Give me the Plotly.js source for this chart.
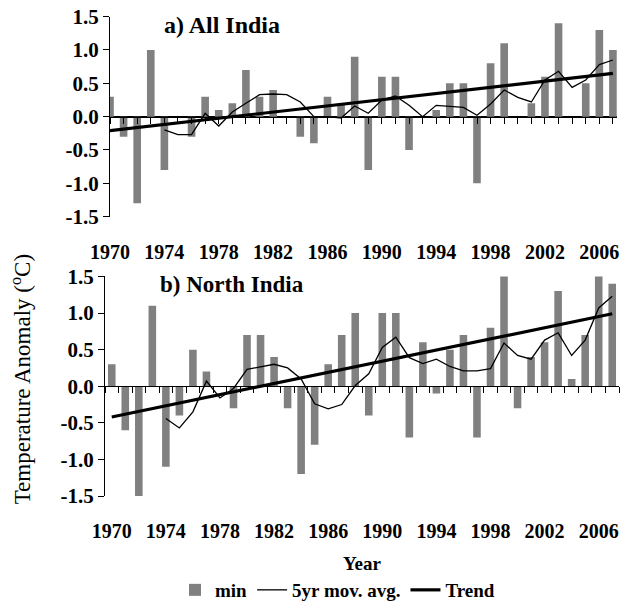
<!DOCTYPE html>
<html>
<head>
<meta charset="utf-8">
<script src="https://cdn.plot.ly/plotly-3.0.1.min.js"></script>
<style>html,body{margin:0;padding:0;background:#fff;}#chart{width:633px;height:609px;}</style>
</head>
<body>
<div id="chart"></div>
<script>
// ---- data ----
const years = [1970,1971,1972,1973,1974,1975,1976,1977,1978,1979,1980,1981,1982,1983,1984,1985,1986,1987,1988,1989,
               1990,1991,1992,1993,1994,1995,1996,1997,1998,1999,2000,2001,2002,2003,2004,2005,2006,2007];

const allIndiaMin = [0.3,-0.3,-1.3,1.0,-0.8,0.0,-0.3,0.3,0.1,0.2,0.7,0.3,0.4,0.0,-0.3,-0.4,0.3,0.2,0.9,-0.8,
                     0.6,0.6,-0.5,0.0,0.1,0.5,0.5,-1.0,0.8,1.1,0.0,0.2,0.6,1.4,0.0,0.5,1.3,1.0];

const movAvgYears = [1974,1975,1976,1977,1978,1979,1980,1981,1982,1983,1984,1985,1986,1987,1988,1989,
                     1990,1991,1992,1993,1994,1995,1996,1997,1998,1999,2000,2001,2002,2003,2004,2005,2006,2007];

const allIndiaAvg = [-0.20,-0.27,-0.27,0.05,-0.14,0.07,0.20,0.33,0.34,0.33,0.22,0.00,0.00,-0.02,0.16,0.05,
                     0.25,0.31,0.17,0.00,0.17,0.15,0.14,0.02,0.19,0.40,0.29,0.22,0.55,0.68,0.44,0.55,0.78,0.85];

const trendYears = [1970, 2007];
const allIndiaTrend = [-0.21, 0.65];

const northMin = [0.3,-0.6,-1.85,1.1,-1.1,-0.4,0.5,0.2,0.0,-0.3,0.7,0.7,0.4,-0.3,-1.2,-0.8,0.3,0.7,1.0,-0.4,
                  1.0,1.0,-0.7,0.6,-0.1,0.5,0.7,-0.7,0.8,1.6,-0.3,0.4,0.6,1.3,0.1,0.7,2.6,1.4];

const northAvg = [-0.44,-0.57,-0.35,0.07,-0.16,-0.03,0.23,0.27,0.30,0.25,0.10,-0.24,-0.31,-0.25,0.01,0.17,
                  0.53,0.67,0.39,0.31,0.37,0.27,0.21,0.21,0.24,0.59,0.42,0.37,0.63,0.73,0.42,0.63,1.07,1.23];

const northTrend = [-0.42, 0.99];

const xLabelYears = [1970,1974,1978,1982,1986,1990,1994,1998,2002,2006];
const xLabelText  = ['1970','1974','1978','1982','1986','1990','1994','1998','2002','2006'];
const yTickVals = [-1.5,-1.0,-0.5,0.0,0.5,1.0,1.5];
const yTickText = ['-1.5','-1.0','-0.5','0.0','0.5','1.0','1.5'];

// ---- styling ----
const FONT = 'Liberation Serif, Times New Roman, serif';
const BAR = '#808080';
const W = 633, H = 609;
const px = v => v / W, py = v => 1 - v / H;

const topX = [px(110), px(617)], topY = [py(221), py(17)];
const botX = [px(105), px(619)], botY = [py(506), py(282)];
const topRange = [1970, 2007.3];
const botRange = [1969.5, 2007.5];
const boundaries = years.map(y => y - 0.5).concat([years[years.length - 1] + 0.5]);

const traces = [
  {type:'bar', x:years, y:allIndiaMin, name:'min', marker:{color:BAR}, xaxis:'x', yaxis:'y'},
  {type:'scatter', mode:'lines', x:movAvgYears, y:allIndiaAvg, name:'5yr mov. avg.', line:{color:'#000', width:1.3}, xaxis:'x', yaxis:'y'},
  {type:'scatter', mode:'lines', x:trendYears, y:allIndiaTrend, name:'Trend', line:{color:'#000', width:3.2}, xaxis:'x', yaxis:'y'},
  {type:'bar', x:years, y:northMin, name:'min', marker:{color:BAR}, xaxis:'x2', yaxis:'y2', showlegend:false},
  {type:'scatter', mode:'lines', x:movAvgYears, y:northAvg, name:'5yr mov. avg.', line:{color:'#000', width:1.3}, xaxis:'x2', yaxis:'y2', showlegend:false},
  {type:'scatter', mode:'lines', x:trendYears, y:northTrend, name:'Trend', line:{color:'#000', width:3.2}, xaxis:'x2', yaxis:'y2', showlegend:false}
];

const xTickFont = {family:FONT, size:20, color:'#000', weight:'bold'};
const yTickFont = {family:FONT, size:21, color:'#000', weight:'bold'};

// x axis drawn on the zero line, labels pushed down to the bottom row
function xAxis(domain, range, pos, majorTicks, standoff, minorVals) {
  return {domain:domain, range:range, anchor:'free', position:pos, showline:true, linecolor:'#000', linewidth:1,
          ticks:majorTicks, ticklen:6, tickwidth:1, tickcolor:'#000',
          tickmode:'array', tickvals:xLabelYears, ticktext:xLabelText, tickfont:xTickFont,
          ticklabelstandoff:standoff,
          minor:{tickmode:'array', tickvals:minorVals, ticks:'outside', ticklen:6, tickwidth:1, tickcolor:'#000', showgrid:false},
          showgrid:false, zeroline:false, fixedrange:true};
}
function yAxis(domain, anchor) {
  return {domain:domain, range:[-1.5,1.5], anchor:anchor, showline:true, linecolor:'#000', linewidth:1,
          ticks:'outside', ticklen:6, tickwidth:1, tickcolor:'#000', tickmode:'array', tickvals:yTickVals,
          ticktext:yTickText, tickfont:yTickFont, showgrid:false,
          zeroline:true, zerolinecolor:'#000', zerolinewidth:1, fixedrange:true};
}

const topZero = (topY[0] + topY[1]) / 2;
const botZero = (botY[0] + botY[1]) / 2;

const layout = {
  width:W, height:H, margin:{l:0, r:0, t:0, b:0},
  paper_bgcolor:'#fff', plot_bgcolor:'rgba(0,0,0,0)',
  font:{family:FONT, color:'#000'},
  bargap:0.44, barmode:'group',
  xaxis: xAxis(topX, topRange, topZero, 'outside', 111, years),
  yaxis: yAxis(topY, 'x'),
  xaxis2: xAxis(botX, botRange, botZero, '', 127, boundaries),
  yaxis2: yAxis(botY, 'x2'),
  showlegend:true,
  legend:{orientation:'h', x:px(175), xanchor:'left', y:py(602), yanchor:'middle',
          font:{family:FONT, size:19, color:'#000', weight:'bold'}, bgcolor:'rgba(0,0,0,0)',
          traceorder:'normal', itemwidth:30},
  annotations:[
    {text:'a) All India', x:px(162), y:py(25), xref:'paper', yref:'paper', xanchor:'left', yanchor:'middle',
     showarrow:false, font:{family:FONT, size:24, color:'#000', weight:'bold'}},
    {text:'b) North India', x:px(158), y:py(290), xref:'paper', yref:'paper', xanchor:'left', yanchor:'middle',
     showarrow:false, font:{family:FONT, size:23, color:'#000', weight:'bold'}},
    {text:'Year', x:px(362), y:py(575), xref:'paper', yref:'paper', xanchor:'center', yanchor:'middle',
     showarrow:false, font:{family:FONT, size:19, color:'#000', weight:'bold'}},
    {text:'Temperature Anomaly (<sup>o</sup>C)', x:px(21), y:py(387), xref:'paper', yref:'paper',
     xanchor:'center', yanchor:'middle', textangle:-90, showarrow:false,
     font:{family:FONT, size:23, color:'#000'}}
  ]
};

Plotly.newPlot('chart', traces, layout, {displayModeBar:false, staticPlot:true});
</script>
</body>
</html>
